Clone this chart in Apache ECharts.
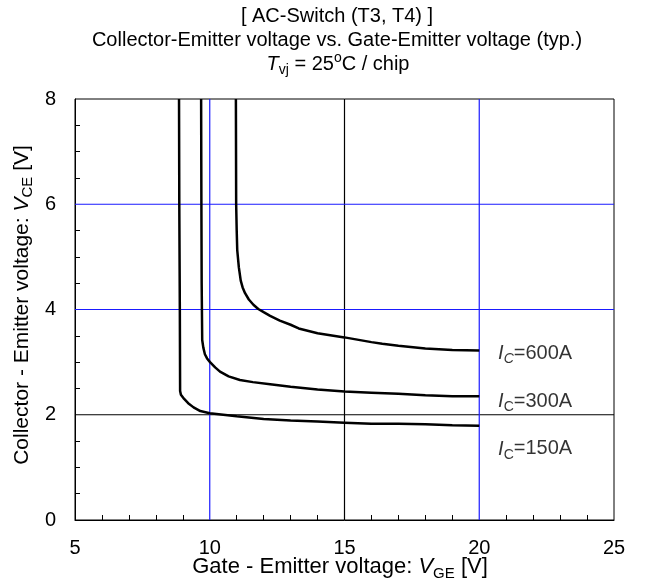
<!DOCTYPE html>
<html>
<head>
<meta charset="utf-8">
<script src="https://cdn.jsdelivr.net/npm/echarts@6/dist/echarts.min.js"></script>
<style>html,body{margin:0;padding:0;background:#fff;}#c{width:647px;height:582px;}</style>
</head>
<body>
<div id="c"></div>
<script>
// ---- data ----
var xTicks = [5, 10, 15, 20, 25];
var yTicks = [0, 2, 4, 6, 8];
var blueGridX = [10, 20];
var blackGridX = [15];
var blueGridY = [4, 6];
var blackGridY = [2];
var ic600 = [[10.97,8],[10.98,6],[11.0,5.5],[11.02,5.13],[11.08,4.8],[11.15,4.55],[11.22,4.42],[11.31,4.31],[11.45,4.19],[11.62,4.09],[11.8,4.01],[12.0,3.95],[12.24,3.88],[12.6,3.79],[13.0,3.71],[13.3,3.64],[14.0,3.55],[15.0,3.47],[16.0,3.38],[16.4,3.35],[17.0,3.31],[18.0,3.26],[19.0,3.23],[20.0,3.22]];
var ic300 = [[9.68,8],[9.69,6],[9.70,4.5],[9.72,3.42],[9.76,3.28],[9.82,3.15],[9.9,3.07],[10.01,3.0],[10.2,2.9],[10.38,2.82],[10.7,2.73],[11.12,2.66],[11.6,2.62],[12.24,2.58],[13.0,2.53],[14.0,2.48],[15.0,2.44],[16.0,2.42],[17.0,2.40],[18.0,2.37],[19.0,2.35],[20.0,2.35]];
var ic150 = [[8.86,8],[8.87,6],[8.89,4],[8.9,2.45],[8.93,2.38],[9.05,2.3],[9.2,2.22],[9.4,2.14],[9.65,2.07],[10.0,2.03],[10.5,2.0],[11.0,1.97],[12.0,1.92],[13.0,1.89],[14.0,1.87],[15.0,1.85],[16.0,1.83],[17.0,1.83],[18.0,1.82],[19.0,1.80],[20.0,1.79]];
var curveLabels = ['{i|I}{subi|C}{n|=600A}', '{i|I}{sub|C}{n|=300A}', '{i|I}{sub|C}{n|=150A}'];
var labelPos = [[20.7,3.17],[20.7,2.26],[20.7,1.35]];
var titleLines = ['[ AC-Switch (T3, T4) ]', 'Collector-Emitter voltage vs. Gate-Emitter voltage (typ.)', '{i|T}{sub|vj}{n| = 25}{sup|o}{n|C / chip}'];
var xName = '{n|Gate - Emitter voltage: }{i|V}{sub|GE}{n| [V]}';
var yName = '{n|Collector - Emitter voltage: }{i|V}{sub|CE}{n| [V]}';

var FF = 'Liberation Sans, Arial, sans-serif';
var FS = 20;
function rich(fs, lh) {
  var ss = Math.round(fs * 0.7);
  return {
    n: {fontFamily: FF, fontSize: fs, fill: '#000', color: '#000', lineHeight: lh},
    i: {fontFamily: FF, fontSize: fs, fontStyle: 'italic', fill: '#000', color: '#000', lineHeight: lh},
    sub: {fontFamily: FF, fontSize: ss, fill: '#000', color: '#000', verticalAlign: 'bottom'},
    subi: {fontFamily: FF, fontSize: ss, fontStyle: 'italic', fill: '#000', color: '#000', verticalAlign: 'bottom'},
    sup: {fontFamily: FF, fontSize: ss, fill: '#000', color: '#000', verticalAlign: 'top'}
  };
}

var chart = echarts.init(document.getElementById('c'), null, {renderer: 'canvas'});
var blue = '#1a1aff';
var yMin = yTicks[0], yMax = yTicks[yTicks.length - 1];
var xMin = xTicks[0], xMax = xTicks[xTicks.length - 1];
function gridSeries(vals, isX, color, z) {
  return vals.map(function (v) {
    return {type: 'line', silent: true, z: z, showSymbol: false, symbol: 'none',
            data: isX ? [[v, yMin], [v, yMax]] : [[xMin, v], [xMax, v]],
            lineStyle: {color: color, width: 1.2}, itemStyle: {color: color}, emphasis: {disabled: true}};
  });
}

var series = []
  .concat(gridSeries(blackGridX, true, '#000', 1))
  .concat(gridSeries(blackGridY, false, '#000', 1))
  .concat(gridSeries(blueGridX, true, blue, 3))
  .concat(gridSeries(blueGridY, false, blue, 3))
  .concat([
    {type: 'line', data: ic600, showSymbol: false, symbol: 'none', lineStyle: {color: '#000', width: 2.5}, z: 5},
    {type: 'line', data: ic300, showSymbol: false, symbol: 'none', lineStyle: {color: '#000', width: 2.5}, z: 5},
    {type: 'line', data: ic150, showSymbol: false, symbol: 'none', lineStyle: {color: '#000', width: 2.5}, z: 5},
    {type: 'scatter', symbolSize: 0, silent: true, z: 6,
     data: labelPos.map(function (p, k) { return {value: p, label: {formatter: curveLabels[k]}}; }),
     label: {show: true, position: 'right', distance: 0, align: 'left', verticalAlign: 'middle', rich: rich(FS, 26)}}
  ]);

var option = {
  animation: false,
  backgroundColor: '#fff',
  grid: {left: 75, top: 99, right: 33, bottom: 62, containLabel: false, outerBoundsMode: 'none',
         show: true, borderColor: '#000', borderWidth: 1, backgroundColor: 'transparent'},
  xAxis: {
    type: 'value', min: xMin, max: xMax, interval: 5,
    axisLine: {show: true, onZero: false, lineStyle: {color: '#000', width: 1}},
    axisTick: {show: true, inside: true, length: 1, lineStyle: {color: 'rgba(0,0,0,0)'}},
    minorTick: {show: true, splitNumber: 5, length: 5, lineStyle: {color: '#000', width: 1}},
    axisLabel: {color: '#000', fontSize: FS, fontFamily: FF, margin: 18},
    splitLine: {show: false}, minorSplitLine: {show: false}
  },
  yAxis: {
    type: 'value', min: yMin, max: yMax, interval: 2,
    axisLine: {show: true, onZero: false, lineStyle: {color: '#000', width: 1}},
    axisTick: {show: true, inside: true, length: 1, lineStyle: {color: 'rgba(0,0,0,0)'}},
    minorTick: {show: true, splitNumber: 4, length: 5, lineStyle: {color: '#000', width: 1}},
    axisLabel: {color: '#000', fontSize: FS, fontFamily: FF, margin: 19},
    splitLine: {show: false}, minorSplitLine: {show: false}
  },
  series: series,
  graphic: [
    {type: 'text', x: 337, y: 16, style: {text: titleLines[0], font: FS + 'px ' + FF, fill: '#000', textAlign: 'center', textVerticalAlign: 'middle'}},
    {type: 'text', x: 337, y: 40, style: {text: titleLines[1], font: FS + 'px ' + FF, fill: '#000', textAlign: 'center', textVerticalAlign: 'middle'}},
    {type: 'text', x: 338, y: 64, style: {text: titleLines[2], rich: rich(FS, 26), font: FS + 'px ' + FF, fill: '#000', textAlign: 'center', textVerticalAlign: 'middle'}},
    {type: 'text', x: 340, y: 567, style: {text: xName, rich: rich(22, 28), font: '22px ' + FF, fill: '#000', textAlign: 'center', textVerticalAlign: 'middle'}},
    {type: 'text', x: 22, y: 305, rotation: Math.PI / 2, style: {text: yName, rich: rich(21, 27), font: '21px ' + FF, fill: '#000', textAlign: 'center', textVerticalAlign: 'middle'}}
  ]
};
chart.setOption(option);
</script>
</body>
</html>
